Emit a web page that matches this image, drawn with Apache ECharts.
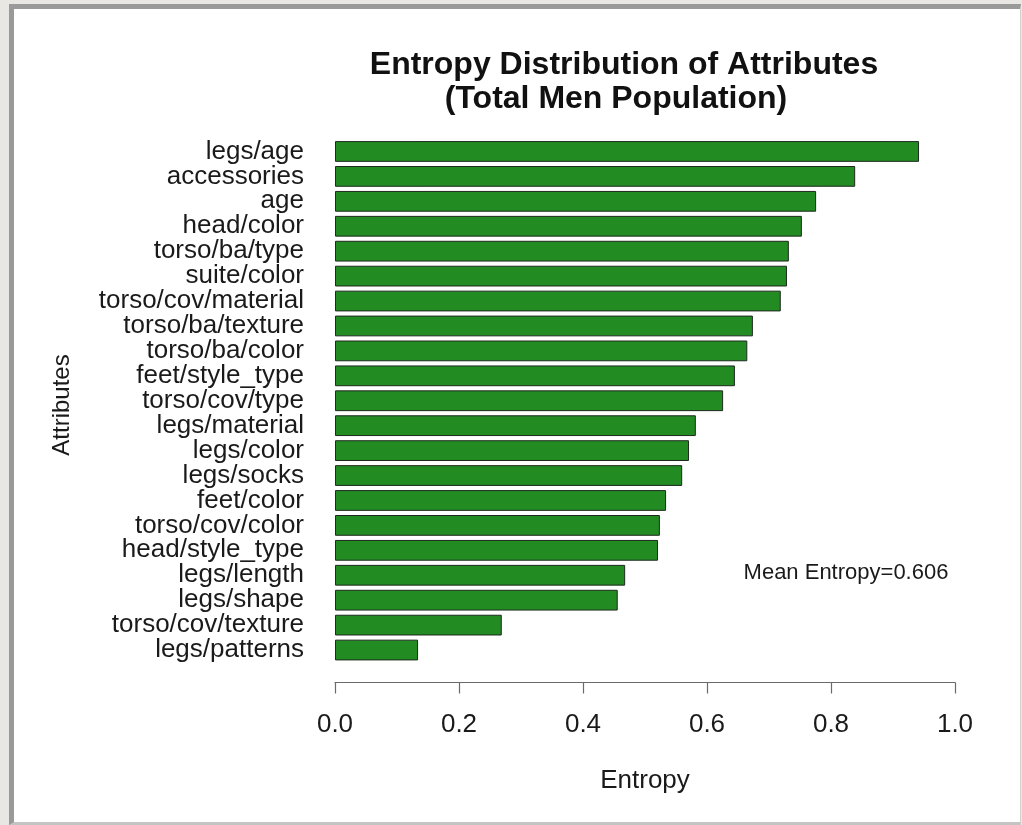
<!DOCTYPE html>
<html>
<head>
<meta charset="utf-8">
<script src="https://cdn.jsdelivr.net/npm/echarts@6/dist/echarts.min.js"></script>
<style>
html,body{margin:0;padding:0;background:#e9e7e3;width:1022px;height:825px;overflow:hidden;}
#frame{position:absolute;left:9px;top:4px;width:1006px;height:813px;border-left:5px solid #9a9a9a;border-top:5px solid #9a9a9a;border-right:1px solid #d6d3ce;border-bottom:3px solid #c4c4c4;background:#fff;}
#chart{position:absolute;left:0;top:0;width:1022px;height:825px;}
</style>
</head>
<body>
<div id="frame"></div>
<div id="chart"></div>
<script>
const categories = ["legs/age","accessories","age","head/color","torso/ba/type","suite/color","torso/cov/material","torso/ba/texture","torso/ba/color","feet/style_type","torso/cov/type","legs/material","legs/color","legs/socks","feet/color","torso/cov/color","head/style_type","legs/length","legs/shape","torso/cov/texture","legs/patterns"];
const entropy = [0.942,0.839,0.776,0.753,0.732,0.729,0.719,0.674,0.665,0.645,0.626,0.582,0.571,0.560,0.534,0.524,0.521,0.468,0.456,0.269,0.134];
const xTicks = [0.0, 0.2, 0.4, 0.6, 0.8, 1.0];
const titleLines = ["Entropy Distribution of Attributes", "(Total Men Population)"];
const meanLabel = "Mean Entropy=0.606";

const FONT = "'Liberation Sans', Arial, Helvetica, sans-serif";
const chart = echarts.init(document.getElementById('chart'), null, {renderer:'canvas'});
chart.setOption({
  backgroundColor: 'transparent',
  animation: false,
  grid: {left: 335, right: 67, top: 139, bottom: 162.5, containLabel: false},
  xAxis: {
    type: 'value', min: xTicks[0], max: xTicks[xTicks.length-1], interval: 0.2,
    offset: 20,
    axisLine: {show: true, lineStyle: {color: '#6a6a6a', width: 1.2}},
    axisTick: {show: true, length: 11, lineStyle: {color: '#6a6a6a', width: 1.2}},
    splitLine: {show: false},
    axisLabel: {fontFamily: FONT, fontSize: 26, color: '#1a1a1a', margin: 29,
      formatter: v => v.toFixed(1)}
  },
  yAxis: {
    type: 'category', data: categories, inverse: true,
    axisLine: {show: false}, axisTick: {show: false}, splitLine: {show: false},
    axisLabel: {fontFamily: FONT, fontSize: 26, color: '#1a1a1a', margin: 31, interval: 0}
  },
  series: [{
    type: 'bar', data: entropy, barCategoryGap: '16.7%',
    itemStyle: {color: '#228B22', borderColor: '#1e2a1e', borderWidth: 1}
  }],
  graphic: [
    {type:'text', x: 624, y: 65, style:{text: titleLines[0], font: 'bold 32px ' + FONT, fill:'#111', textAlign:'center', textVerticalAlign:'middle'}},
    {type:'text', x: 616, y: 99, style:{text: titleLines[1], font: 'bold 32px ' + FONT, fill:'#111', textAlign:'center', textVerticalAlign:'middle'}},
    {type:'text', x: 645, y: 781, style:{text: 'Entropy', font: '26px ' + FONT, fill:'#1a1a1a', textAlign:'center', textVerticalAlign:'middle'}},
    {type:'text', x: 62, y: 405, rotation: Math.PI/2, style:{text: 'Attributes', font: '24px ' + FONT, fill:'#1a1a1a', textAlign:'center', textVerticalAlign:'middle'}},
    {type:'text', x: 846, y: 573, style:{text: meanLabel, font: '22px ' + FONT, fill:'#1a1a1a', textAlign:'center', textVerticalAlign:'middle'}}
  ]
});
</script>
</body>
</html>
